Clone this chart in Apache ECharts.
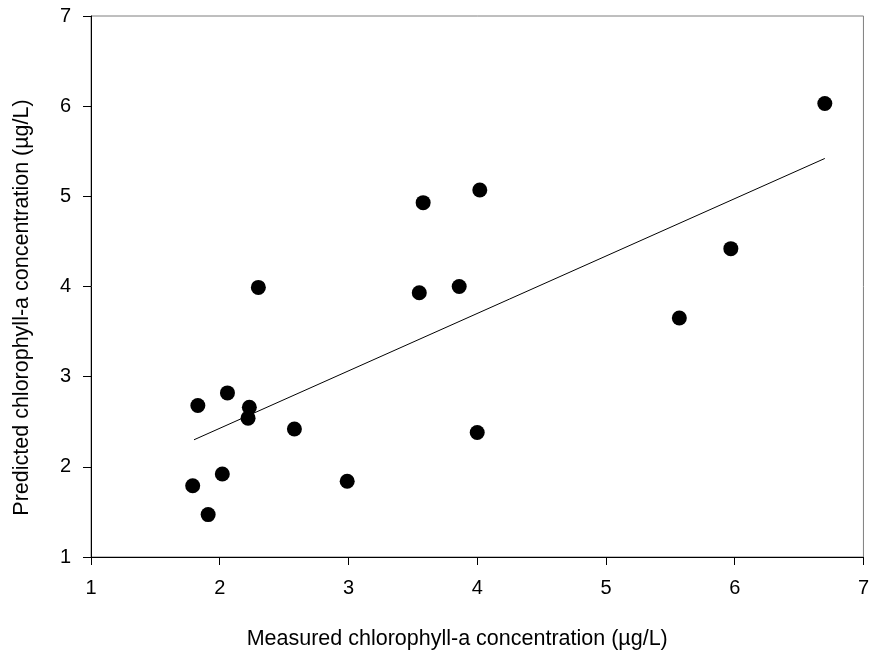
<!DOCTYPE html>
<html>
<head>
<meta charset="utf-8">
<script src="https://cdn.jsdelivr.net/npm/echarts@6/dist/echarts.min.js"></script>
<style>
  html, body { margin: 0; padding: 0; background: #fff; }
  #chart { width: 872px; height: 655px; }
</style>
</head>
<body>
<div id="chart"></div>
<script>
// measured vs predicted chlorophyll-a (µg/L)
const measured = [1.79, 1.91, 2.02, 2.99, 2.30, 2.06, 1.83, 2.23, 2.22, 2.58, 3.58, 4.02, 3.55, 3.86, 4.00, 6.70, 5.97, 5.57];
const predicted = [1.79, 1.47, 1.92, 1.84, 3.99, 2.82, 2.68, 2.66, 2.54, 2.42, 4.93, 5.07, 3.93, 4.00, 2.38, 6.03, 4.42, 3.65];
// regression line end points
const fitX = [1.80, 6.70];
const fitY = [2.30, 5.42];

const font = 'Liberation Sans, Arial, sans-serif';

const chart = echarts.init(document.getElementById('chart'));

chart.setOption({
  animation: false,
  backgroundColor: '#fff',
  grid: {
    left: 91, right: 8, top: 16, bottom: 97,
    show: true,
    borderColor: '#7f7f7f',
    borderWidth: 1
  },
  xAxis: {
    type: 'value',
    min: 1, max: 7, interval: 1,
    name: 'Measured chlorophyll-a concentration (µg/L)',
    nameLocation: 'middle',
    nameGap: 71,
    // title sits a bit left of the plot centre in the original
    nameTextStyle: { fontFamily: font, fontSize: 21.5, color: '#000', padding: [0, 40, 0, 0] },
    axisLine: { show: true, onZero: false, lineStyle: { color: '#000', width: 1 } },
    axisTick: { show: true, length: 8, lineStyle: { color: '#000' } },
    axisLabel: { margin: 21, fontFamily: font, fontSize: 20, color: '#000' },
    splitLine: { show: false }
  },
  yAxis: {
    type: 'value',
    min: 1, max: 7, interval: 1,
    name: 'Predicted chlorophyll-a concentration (µg/L)',
    nameLocation: 'middle',
    nameGap: 58,
    nameTextStyle: { fontFamily: font, fontSize: 21.5, color: '#000', padding: [0, 42, 0, 0] },
    axisLine: { show: true, onZero: false, lineStyle: { color: '#000', width: 1 } },
    axisTick: { show: true, length: 8, lineStyle: { color: '#000' } },
    axisLabel: { margin: 20, fontFamily: font, fontSize: 20, color: '#000' },
    splitLine: { show: false }
  },
  series: [
    {
      type: 'line',
      data: fitX.map((x, i) => [x, fitY[i]]),
      symbol: 'none',
      lineStyle: { color: '#000', width: 1 },
      silent: true
    },
    {
      type: 'scatter',
      data: measured.map((x, i) => [x, predicted[i]]),
      symbol: 'circle',
      symbolSize: 15,
      itemStyle: { color: '#000', opacity: 1 }
    }
  ]
});
</script>
</body>
</html>
